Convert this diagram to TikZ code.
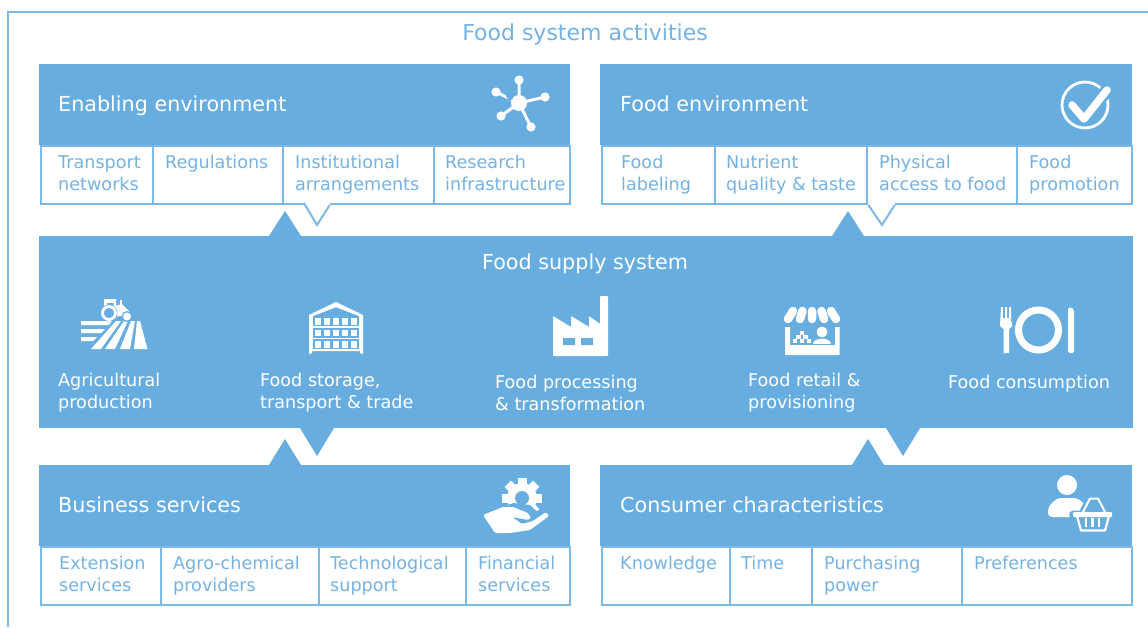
\documentclass[tikz,border=0pt]{standalone}
\usepackage{fontspec}
\setmainfont{DejaVu Sans}
\definecolor{fsblue}{HTML}{68ADE0}
\definecolor{fsline}{HTML}{7DB9E6}
\definecolor{fstext}{HTML}{74B3E3}
\newcommand{\hdrfont}{\fontsize{20.7}{24}\selectfont}
\newcommand{\cellfont}{\fontsize{17.6}{22}\selectfont}
\tikzset{
  panel/.style={fill=fsblue,draw=none,anchor=north west,inner sep=0pt},
  cellbox/.style={fill=white,draw=fsline,line width=2pt,anchor=north west,inner sep=0pt},
  celltext/.style={anchor=north west,inner sep=0pt,text=fstext,align=left,font=\cellfont},
  hdrtext/.style={anchor=base west,inner sep=0pt,text=white,font=\hdrfont},
  foodtext/.style={anchor=west,inner sep=0pt,text=white,align=left,font=\cellfont},
  tri/.style={fill=fsblue,draw=none},
  icon/.style={fill=white,draw=none},
  iconline/.style={draw=white,line cap=round,line join=round},
}
% name, x0, x1, y0, text x, text
\newcommand{\fscell}[6]{%
  \node[cellbox,minimum width=#3pt-#2pt,minimum height=58pt] (#1) at (#2,#4) {};
  \node[celltext] (#1t) at (#5,#4+10) {#6};
}
\begin{document}
\begin{tikzpicture}[x=1pt,y=-1pt]
\useasboundingbox (0,0) rectangle (1148,627);
\fill[white] (0,0) rectangle (1148,627);
\draw[fsline,line width=2.2pt] (8,627) -- (8,12) -- (1148,12);
\node[anchor=base,inner sep=0pt,text=fstext,font=\fontsize{22}{25}\selectfont] (title) at (585,40) {Food system activities};

% panels
\node[panel,minimum width=531.5pt,minimum height=81pt] (enabling) at (38.5,64) {};
\node[panel,minimum width=532pt,minimum height=81pt] (foodenv) at (600,64) {};
\node[panel,minimum width=1094pt,minimum height=192pt] (supply) at (38.5,236) {};
\node[panel,minimum width=531.5pt,minimum height=81pt] (business) at (38.5,465) {};
\node[panel,minimum width=532pt,minimum height=81pt] (consumer) at (600,465) {};

% cells
\fscell{c11}{39.5}{152}{145}{58}{Transport\\networks}
\fscell{c12}{152}{282}{145}{165}{Regulations}
\fscell{c13}{282}{432.5}{145}{295}{Institutional\\arrangements}
\fscell{c14}{432.5}{569}{145}{445}{Research\\infrastructure}
\fscell{c21}{601}{714}{145}{621}{Food\\labeling}
\fscell{c22}{714}{866}{145}{726}{Nutrient\\quality \& taste}
\fscell{c23}{866}{1016}{145}{879}{Physical\\access to food}
\fscell{c24}{1016}{1131}{145}{1029}{Food\\promotion}
\fscell{c31}{39.5}{160}{546}{59}{Extension\\services}
\fscell{c32}{160}{318}{546}{173}{Agro-chemical\\providers}
\fscell{c33}{318}{465}{546}{330}{Technological\\support}
\fscell{c34}{465}{569}{546}{478}{Financial\\services}
\fscell{c41}{601}{729}{546}{620}{Knowledge}
\fscell{c42}{729}{811}{546}{741}{Time}
\fscell{c43}{811}{961}{546}{824}{Purchasing\\power}
\fscell{c44}{961}{1131}{546}{974}{Preferences}

% pointers
\fill[tri] (269,236) -- (285,211) -- (301,236) -- cycle;
\fill[tri] (832,236) -- (848,211) -- (864,236) -- cycle;
\fill[tri] (300,428) -- (317,456) -- (334,428) -- cycle;
\fill[tri] (886,428) -- (903,456) -- (920,428) -- cycle;
\fill[tri] (269,465) -- (285,439) -- (301,465) -- cycle;
\fill[tri] (852,465) -- (868,439) -- (884,465) -- cycle;
\draw[fsline,line width=2pt,fill=white] (304,203) -- (317,225) -- (331,203);
\fill[white] (305.5,201.5) rectangle (329.5,204.5);
\draw[fsline,line width=2pt,fill=white] (867,203) -- (882,225) -- (896,203);
\fill[white] (868,201.5) rectangle (894.5,204.5);

% headings
\node[hdrtext] (h1) at (58,111) {Enabling environment};
\node[hdrtext] (h2) at (620,111) {Food environment};
\node[hdrtext] (h3) at (58,512) {Business services};
\node[hdrtext] (h4) at (620,512) {Consumer characteristics};
\node[anchor=base,inner sep=0pt,text=white,font=\hdrfont] (h5) at (585,269) {Food supply system};

% supply labels
\node[foodtext] (s1) at (58,392.5) {Agricultural\\production};
\node[foodtext] (s2) at (260,392.5) {Food storage,\\transport \& trade};
\node[foodtext] (s3) at (495,392.5) {Food processing\\\& transformation};
\node[foodtext] (s4) at (748,392.5) {Food retail \&\\provisioning};
\node[foodtext] (s5) at (948,384) {Food consumption};

% network icon
\draw[iconline,line width=3pt] (519,103) -- (519,80) (519,103) -- (496,92) (519,103) -- (545,97) (519,103) -- (501,116) (519,103) -- (531,127);
\fill[icon] (519,103) circle (8);
\foreach \p in {(519,80),(496,92),(545,97),(501,116),(531,127)} \fill[icon] \p circle (4.6);
\fill[fsblue] (505,94) -- (508,91) -- (513,99) -- (509,101) -- cycle;

% check icon
\draw[white,line width=2.8pt] (1085,105) circle (23);
\draw[fsblue,line width=13pt,line cap=round,line join=round] (1072,105) -- (1084,119) -- (1107,90);
\draw[white,line width=7.5pt,line cap=round,line join=round] (1072,105) -- (1084,119) -- (1107,90);

% tractor
\fill[icon] (81,321) -- (112,321) -- (109,325) -- (81,325) -- cycle;
\fill[icon] (81,329) -- (105,329) -- (101,333) -- (81,333) -- cycle;
\fill[icon] (81,337) -- (97,337) -- (93,341) -- (81,341) -- cycle;
\fill[icon] (116,321) -- (121,321) -- (101,349) -- (91,349) -- cycle;
\fill[icon] (124,321) -- (128,321) -- (115,349) -- (105,349) -- cycle;
\fill[icon] (131,321) -- (135,321) -- (130,349) -- (120,349) -- cycle;
\fill[icon] (137,321) -- (140,321) -- (147.5,349) -- (134,349) -- cycle;
\fill[icon] (104,299) rectangle (116,303);
\fill[icon] (104,299) rectangle (107,308) (113.5,299) rectangle (116,308);
\fill[icon] (115,306) -- (122,304) -- (129,311) -- (130,314) -- (115,317) -- cycle;
\fill[icon] (120,300) rectangle (122,306);
\fill[fsblue] (109,313) circle (8.5);
\draw[white,line width=2.8pt] (109,313) circle (6.5);
\fill[fsblue] (127,316.5) circle (5.5);
\fill[icon] (127,316.5) circle (4);

% warehouse
\fill[icon] (309,353.5) -- (309,315) -- (336,302) -- (363,315) -- (363,353.5) -- (360,353.5) -- (360,351) -- (312,351) -- (312,353.5) -- cycle;
\fill[fsblue] (313,316) -- (336,307) -- (359,316) -- cycle;
\foreach \r in {316,327.5,339}{
  \fill[fsblue] (313,\r) rectangle (359,\r+10);
  \foreach \c in {0,1,2,3,4} \fill[icon] (314.5+\c*9,\r+2) rectangle (321+\c*9,\r+8.5);
}
\fill[icon] (313,316) -- (336,307) -- (359,316) -- (359,314) -- (336,305) -- (313,314) -- cycle;

% factory
\fill[icon,rounded corners=0.8pt] (553,356) -- (553,316) -- (571,327) -- (571,316) -- (589,327) -- (589,316) -- (600,324) -- (600,296) -- (608,296) -- (608,356) -- cycle;
\fill[fsblue] (563,338) rectangle (575,345) (581,338) rectangle (593,345);

% store
\draw[white,line width=8.5pt,line cap=round] (793,311) -- (788,319) (802.5,311) -- (800,319) (812,311) -- (812,319) (821.5,311) -- (824,319) (831,311) -- (836,319);
\fill[icon] (785,327) rectangle (790,355) (835,327) rectangle (839.5,355) (785,345) rectangle (839.5,355);
\fill[icon] (822,332) circle (5.5);
\fill[icon] (813,344) .. controls (813,337) and (831,337) .. (831,344) -- cycle;
\foreach \px/\py in {802/333,798.5/337,805.5/337,795/341,802/341,809/341}
  \fill[icon] (\px-2.4,\py-1.6) rectangle (\px+2.4,\py+1.6);

% cutlery
\fill[icon] (1001,307) -- (1002.8,307) -- (1002.8,318) -- (1005,318) -- (1005,307) -- (1007,307) -- (1007,318) -- (1009,318) -- (1009,307) -- (1011,307) -- (1011,320) -- (1012.5,326) -- (1009,329) -- (1009,353) -- (1003.5,353) -- (1003.5,329) -- (1000,326) -- cycle;
\draw[white,line width=7pt] (1038.5,330) circle (20);
\fill[icon,rounded corners=1.5pt] (1068,308) -- (1071,307) -- (1074,310) -- (1074,353) -- (1068,353) -- cycle;

% hand and gear
\begin{scope}[shift={(522,498)}]
\fill[icon] (0,0) circle (15);
\foreach \a in {0,45,...,315}{
  \fill[icon,rotate=\a] (-4.5,-20) rectangle (4.5,-12);
}
\fill[fsblue] (0,0) circle (7);
\fill[fsblue] (-18,8) -- (-8,5) -- (8,7) -- (20,18) -- (20,32) -- (-25,32) -- cycle;
\end{scope}
\fill[icon,rounded corners=1.5pt] (483,515) -- (503,507) -- (513,507) -- (528,513) -- (531,518) -- (528,520) -- (512,517) -- (522,524) -- (533,521) -- (546,512) -- (549,516) -- (530,530) -- (510,533) -- (495,533) -- cycle;

% person and basket
\fill[icon] (1067,485) circle (10);
\fill[icon,rounded corners=4pt] (1048,517) -- (1048,507) -- (1057,498) -- (1078,498) -- (1086,506) -- (1086,517) -- cycle;
\draw[fsblue,line width=8pt,line join=round] (1073,514.5) -- (1112,514.5) -- (1105,531) -- (1080,531) -- cycle;
\fill[fsblue] (1073,514.5) -- (1112,514.5) -- (1105,531) -- (1080,531) -- cycle;
\draw[fsblue,line width=6pt,line join=round,line cap=round] (1083,510) -- (1090,498.5) -- (1098,498.5) -- (1105,510);
\draw[white,line width=2pt,line join=round,line cap=round] (1083,512) -- (1090,498.5) -- (1098,498.5) -- (1105,512);
\fill[icon,rounded corners=1pt] (1073,512) rectangle (1112,517);
\draw[white,line width=2.2pt,line join=round] (1077,516) -- (1081,530.5) -- (1105,530.5) -- (1109,516);
\foreach \vx in {1086,1092.5,1099} \draw[white,line width=2.2pt] (\vx,518) -- (\vx,527);
\end{tikzpicture}
\end{document}
